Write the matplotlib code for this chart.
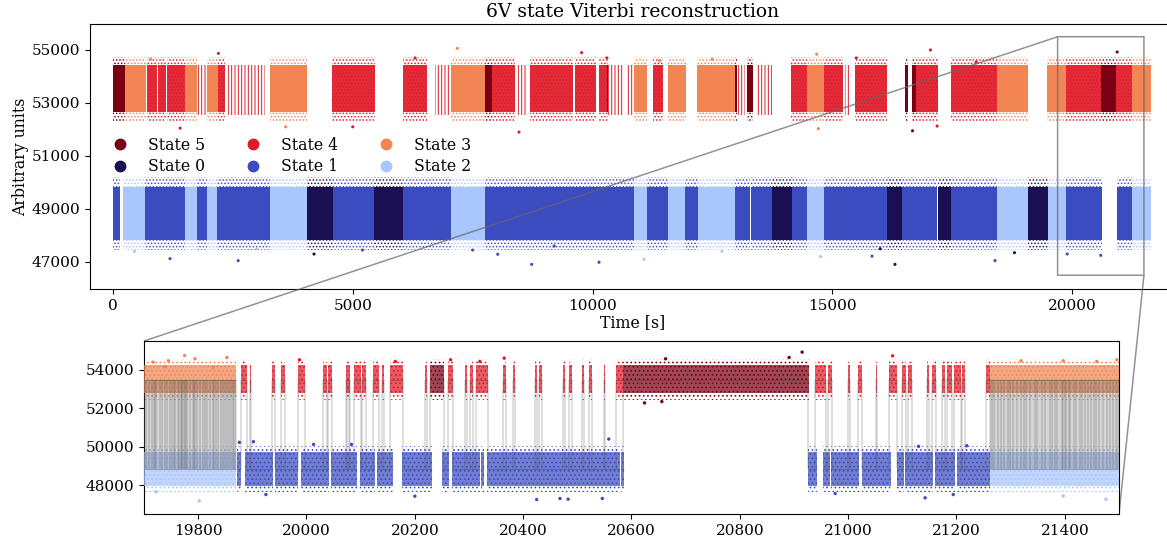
import matplotlib
matplotlib.use("Agg")
import matplotlib.pyplot as plt
from matplotlib.lines import Line2D

plt.rcParams['font.family'] = ['DejaVu Serif']
plt.rcParams['hatch.linewidth'] = 0.7

W, H = 1167, 544

state_colors = {0: '#1a0f50', 1: '#3b4cc0', 2: '#a9c6fd', 3: '#f18553', 4: '#e01a28', 5: '#7a0014'}
legend_states = [5, 0, 4, 1, 3, 2]

# Whole-record segments: (start s, end s, state)
low_seg_start = [5, 215, 667, 1501, 1745, 1953, 2162, 3274, 4039, 4581, 5443, 6055, 7042, 7758, 10865, 11130, 11581,
                 11929, 12207, 12972, 13300, 13736, 14154, 14480, 14828, 16135, 16455, 17212, 17484, 18429, 19089,
                 19493, 19870, 20932, 21260]
low_seg_end = [146, 667, 1501, 1745, 1953, 2162, 3274, 4039, 4581, 5443, 6055, 7042, 7758, 10865, 11130, 11581, 11929,
               12207, 12972, 13285, 13736, 14154, 14480, 14828, 16135, 16455, 17190, 17484, 18429, 19089, 19493,
               19870, 20619, 21260, 21641]
low_seg_state = [1, 2, 1, 2, 1, 2, 1, 2, 0, 1, 0, 1, 2, 1, 2, 1, 2, 1, 2, 1, 1, 0, 1, 2, 1, 0, 1, 0, 1, 2, 0, 2, 1, 1, 2]

up_seg_start = [5, 250, 700, 930, 1120, 1501, 1953, 2197, 3274, 4561, 6055, 7042, 7758, 7898, 8697, 9635, 10143, 10296,
                10865, 11255, 11568, 12186, 12972, 13229, 14133, 14480, 14828, 15475, 16517, 16656, 16746, 17484,
                18429, 19485, 19870, 20600, 20925, 21260]
up_seg_end = [250, 688, 920, 1110, 1501, 1745, 2197, 2335, 4039, 5464, 6542, 7758, 7898, 8384, 9600, 10073, 10296, 10330,
              11143, 11477, 11950, 12972, 13007, 13354, 14466, 14828, 15231, 16135, 16586, 16746, 17212, 18429,
              19089, 19870, 20600, 20925, 21260, 21641]
up_seg_state = [5, 3, 4, 4, 4, 3, 3, 4, 3, 4, 4, 3, 5, 4, 4, 4, 4, 5, 3, 4, 3, 3, 5, 5, 4, 3, 4, 4, 5, 5, 4, 4, 3, 3, 4,
                5, 4, 3]

sparse_start = [1745, 2405, 6715, 8453, 10330, 10727, 13042, 13424, 15266]
sparse_end = [1953, 3170, 7042, 8626, 10643, 10865, 13181, 13737, 15370]

# Scattered far-out points
out_t = [1189, 2610, 4192, 8731, 10135, 11074, 8023, 16308, 14758, 15829, 18394, 2197, 7181, 9773, 8467, 14675, 17047,
         16674, 14710, 17187, 20942, 780, 1400, 3600, 5000, 6300, 10300, 11400, 12500, 15500, 18000, 19900, 20600,
         450, 3000, 5200, 7500, 9200, 12700, 16000, 18800]
out_y = [47125, 47050, 47300, 46910, 46990, 47100, 47290, 46910, 47200, 47220, 47050, 54870, 55060, 54900, 51900,
         54840, 55000, 51950, 52030, 52130, 54925, 54650, 52050, 52100, 52100, 54700, 54700, 54600, 54650, 54700, 54550,
         47300, 47250, 47400, 47500, 47450, 47450, 47600, 47400, 47500, 47350]
out_state = [1, 1, 0, 1, 1, 2, 1, 0, 2, 1, 1, 4, 3, 4, 4, 3, 4, 5, 3, 4, 5, 3, 4, 3, 4, 4, 4, 3, 3, 4, 4, 1, 1, 2, 2, 1,
             1, 1, 2, 0, 0]

# Zoom window: level visits
zoom_low_start = [19700, 19871, 19887, 19942, 19989, 20045, 20099, 20130, 20176, 20251, 20268, 20323, 20333, 20581,
                  20925, 20953, 20968, 21025, 21090, 21105, 21160, 21201, 21262]
zoom_low_end = [19870, 19880, 19939, 19985, 20041, 20094, 20127, 20160, 20231, 20264, 20320, 20328, 20579, 20587,
                20943, 20967, 21020, 21079, 21103, 21157, 21197, 21262, 21500]
zoom_low_state = [2] + [1] * 21 + [2]

zoom_up_start = [19700, 19879, 19895, 19936, 19953, 19985, 20031, 20040, 20073, 20088, 20103, 20122, 20140, 20154, 20219,
                 20228, 20262, 20293, 20302, 20313, 20363, 20381, 20422, 20430, 20473, 20485, 20508, 20522, 20549,
                 20571, 20584, 20939, 20963, 20999, 21018, 21051, 21076, 21099, 21111, 21146, 21155, 21174, 21183,
                 21195, 21211, 21254, 21262]
zoom_up_end = [19870, 19890, 19897, 19942, 19960, 19998, 20037, 20048, 20080, 20101, 20109, 20133, 20143, 20179, 20223,
               20253, 20270, 20297, 20308, 20336, 20368, 20385, 20425, 20434, 20477, 20490, 20512, 20527, 20552,
               20585, 20928, 20960, 20971, 21003, 21026, 21053, 21091, 21106, 21117, 21150, 21163, 21179, 21191,
               21208, 21216, 21262, 21500]
zoom_up_state = [3] + [4] * 14 + [5] + [4] * 14 + [5] + [4] * 15 + [3]

switch_times = [19703, 19709, 19714, 19718, 19721, 19723, 19729, 19734, 19738, 19743, 19748, 19752, 19755, 19758, 19762,
                19765, 19768, 19770, 19771, 19773, 19775, 19778, 19780, 19785, 19790, 19792, 19795, 19798, 19803, 19809,
                19812, 19816, 19821, 19827, 19830, 19833, 19836, 19843, 19846, 19850, 19853, 19857, 19861, 19864, 19866,
                19869, 19879, 19890, 19895, 19897, 19936, 19942, 19953, 19960, 19985, 19998, 20031, 20037, 20040, 20048,
                20073, 20075, 20078, 20080, 20088, 20101, 20103, 20109, 20122, 20133, 20140, 20143, 20154, 20179, 20219,
                20223, 20228, 20253, 20262, 20270, 20293, 20297, 20302, 20308, 20313, 20336, 20363, 20368, 20381, 20385,
                20422, 20425, 20430, 20434, 20473, 20477, 20485, 20490, 20508, 20512, 20522, 20527, 20549, 20552, 20571,
                20585, 20925, 20939, 20960, 20963, 20971, 20999, 21003, 21018, 21026, 21051, 21053, 21076, 21091, 21099,
                21106, 21111, 21117, 21146, 21150, 21155, 21163, 21174, 21179, 21183, 21191, 21195, 21208, 21211, 21216,
                21254, 21261, 21265, 21269, 21277, 21283, 21287, 21295, 21298, 21305, 21311, 21320, 21324, 21329, 21335,
                21345, 21349, 21357, 21363, 21373, 21377, 21381, 21386, 21394, 21397, 21400, 21403, 21407, 21410, 21417,
                21421, 21428, 21431, 21437, 21443, 21449, 21453, 21458, 21463, 21471, 21477, 21483, 21489, 21494, 21499]

# Stretches where the path switches too often to resolve single lines
busy_start = [19700, 21262]
busy_end = [19870, 21500]

zoom_out_t = [19775, 19853, 19745, 19717, 19794, 19739, 19828, 19802, 19722, 19925, 20425, 20468, 20483, 20546, 20200,
              19902, 19876, 20013, 20083, 20558, 20365, 19987, 20266, 20320, 20164, 20915, 21082, 20663, 20891, 20624,
              20656, 21142, 21476, 21397, 21194, 20976, 21219, 21130, 21397, 21496, 21319, 21459]
zoom_out_y = [54748, 54644, 54470, 54400, 54574, 54174, 54122, 47183, 47653, 47513, 47253, 47305, 47270, 47305, 47427,
              50261, 50226, 50122, 50122, 50400, 54609, 54522, 54522, 54435, 54435, 54922, 54730, 54574, 54644, 52278,
              52348, 47340, 47270, 47444, 47513, 47566, 50052, 50018, 54470, 54522, 54470, 54435]
zoom_out_state = [3, 3, 3, 3, 3, 3, 3, 2, 2, 1, 1, 1, 1, 1, 1, 1, 1, 1, 1, 1, 4, 4, 4, 4, 4, 5, 4, 5, 5, 5, 5, 1, 2, 2, 1,
                  1, 1, 1, 3, 3, 3, 3]

level_low, level_up = 48835, 53480
x_ticks_main = [0, 5000, 10000, 15000, 20000]
y_ticks_main = [47000, 49000, 51000, 53000, 55000]
x_ticks_zoom = [19800, 20000, 20200, 20400, 20600, 20800, 21000, 21200, 21400]
y_ticks_zoom = [48000, 50000, 52000, 54000]


def px_axes(fig, left, top, right, bottom):
    return fig.add_axes([left / W, 1 - bottom / H, (right - left) / W, (bottom - top) / H])


def draw_band(axis, start, end, state, core, fringe, core_alpha, hatch):
    color = state_colors[state]
    axis.broken_barh([(start, end - start)], (core[0], core[1] - core[0]), facecolor=color, alpha=core_alpha,
                     linewidth=0, zorder=3)
    axis.broken_barh([(start, end - start)], (fringe[0], fringe[1] - fringe[0]), facecolor='none', edgecolor=color,
                     hatch=hatch, linewidth=0, zorder=2)


fig = plt.figure(figsize=(W / 100, H / 100), dpi=100)
ax = px_axes(fig, 90, 24, 1175, 289)
ax.set_xlim(-480, (1175 - 113) / 0.04795)
ax.set_ylim(45980, 55980)

# whole record
for s, e, st in zip(low_seg_start, low_seg_end, low_seg_state):
    draw_band(ax, s, e, st, (47830, 49830), (47450, 50200), 1, '.....')
for s, e, st in zip(up_seg_start, up_seg_end, up_seg_state):
    draw_band(ax, s, e, st, (52660, 54430), (52300, 54750), 0.92 if st == 4 else 1, '.....')
for s, e in zip(sparse_start, sparse_end):
    ax.broken_barh([(s, e - s)], (52550, 1900), facecolor='none', edgecolor=state_colors[4], hatch='|||||', linewidth=0,
                   zorder=2)
ax.scatter(out_t, out_y, c=[state_colors[s] for s in out_state], s=5, linewidths=0, zorder=4)

ax.set_xticks(x_ticks_main)
ax.set_yticks(y_ticks_main)
ax.tick_params(labelsize=11, length=3.5)
ax.set_xlabel('Time [s]', fontsize=11.3, labelpad=1)
ax.set_ylabel('Arbitrary units', fontsize=11.3, labelpad=2)
ax.set_title('6V state Viterbi reconstruction', fontsize=13.5, pad=5)
handles = [Line2D([], [], ls='', marker='o', ms=7.5, color=state_colors[s], label=f'State {s}') for s in legend_states]
ax.legend(handles=handles, ncol=3, frameon=False, fontsize=11.3, loc='upper left',
          bbox_to_anchor=(0.0, 0.628), columnspacing=2.03, labelspacing=0.3, handletextpad=0.8)

# zoom window
zx = px_axes(fig, 144, 341, 1119, 514)
zx.set_xlim(19700, 21500)
zx.set_ylim(46500, 55500)
for s, e, st in zip(zoom_low_start, zoom_low_end, zoom_low_state):
    draw_band(zx, s, e, st, (47980, 49720), (47650, 50050), 0.72, '....')
for s, e, st in zip(zoom_up_start, zoom_up_end, zoom_up_state):
    draw_band(zx, s, e, st, (52800, 54260), (52450, 54550), 0.72, '....')
for s, e in zip(busy_start, busy_end):
    zx.broken_barh([(s, e - s)], (level_low, level_up - level_low), facecolor='#777777', alpha=0.3, linewidth=0,
                   zorder=4)
zx.vlines(switch_times, level_low, level_up, colors='#555555', linewidth=1.2, alpha=0.22, zorder=4)
zx.hlines([level_low] * len(zoom_low_start), zoom_low_start, zoom_low_end, colors='#333333', linewidth=0.7, alpha=0.35,
          zorder=4)
zx.hlines([level_up] * len(zoom_up_start), zoom_up_start, zoom_up_end, colors='#333333', linewidth=0.7, alpha=0.35,
          zorder=4)
zx.scatter(zoom_out_t, zoom_out_y, c=[state_colors[s] for s in zoom_out_state], s=6, linewidths=0, zorder=5)
zx.set_xticks(x_ticks_zoom)
zx.set_yticks(y_ticks_zoom)
zx.tick_params(labelsize=11, length=3.5)

marker = ax.indicate_inset([19700, 46500, 1800, 9000], zx, edgecolor='#666666', alpha=0.7, linewidth=1.1)
for conn, vis in zip(marker.connectors, [False, True, True, False]):
    conn.set_visible(vis)

fig.savefig('out.png', dpi=100)
